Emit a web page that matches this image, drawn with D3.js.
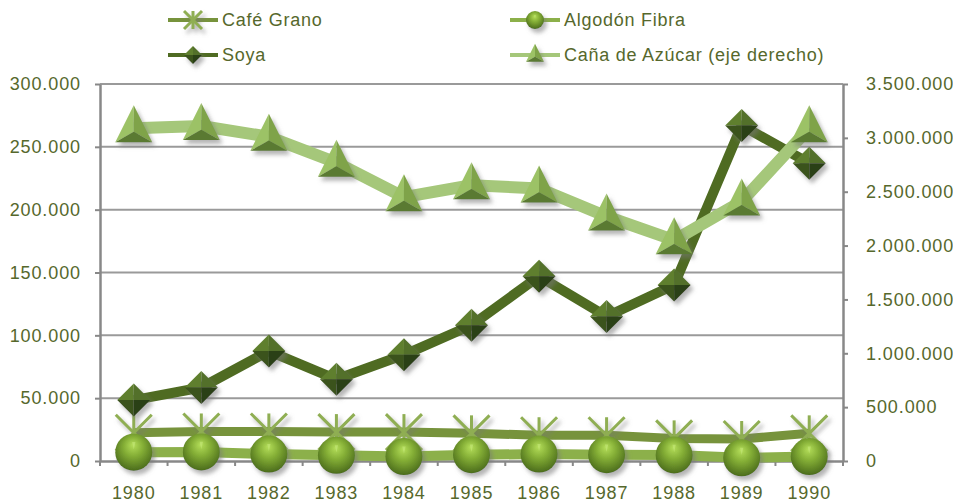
<!DOCTYPE html>
<html>
<head>
<meta charset="utf-8">
<script src="https://cdn.jsdelivr.net/npm/d3@7"></script>
<style>
  html, body { margin: 0; padding: 0; background: #fff; }
  svg { display: block; }
  text { font-family: "Liberation Sans", Arial, sans-serif; fill: #56682c; }
</style>
</head>
<body>
<svg id="chart" width="953" height="502"></svg>
<script>
// Producción agrícola 1980–1990
const years   = [1980, 1981, 1982, 1983, 1984, 1985, 1986, 1987, 1988, 1989, 1990];
const cafe    = [22500, 23500, 23500, 23000, 23000, 22000, 20500, 20500, 18000, 17500, 22000];
const algodon = [7000, 7200, 5500, 4500, 3500, 5000, 5500, 5000, 4800, 2500, 3500];
const soya    = [48500, 58500, 87500, 65000, 84500, 108000, 147000, 115000, 140000, 267000, 237000];
const cana    = [3090000, 3110000, 3010000, 2770000, 2450000, 2560000, 2530000, 2270000, 2050000, 2410000, 3090000];
const leftTicks  = [0, 50000, 100000, 150000, 200000, 250000, 300000];
const rightTicks = [0, 500000, 1000000, 1500000, 2000000, 2500000, 3000000, 3500000];

const svg = d3.select("#chart");
const plot = { left: 100, right: 843, top: 84, bottom: 461 };

const x = d3.scaleBand().domain(years).range([plot.left, plot.right]).padding(0);
const yL = d3.scaleLinear().domain([0, 300000]).range([plot.bottom, plot.top]);
const yR = d3.scaleLinear().domain([0, 3500000]).range([plot.bottom, plot.top]);
const cx = d => x(d) + x.bandwidth() / 2;

const fmt = d3.formatLocale({ decimal: ",", thousands: ".", grouping: [3], currency: ["", ""] }).format(",d");

// ---------- gradients & filters ----------
const defs = svg.append("defs");
const shadow = defs.append("filter").attr("id", "shadow")
  .attr("x", "-50%").attr("y", "-50%").attr("width", "200%").attr("height", "200%");
shadow.append("feDropShadow").attr("dx", 3).attr("dy", 4).attr("stdDeviation", 2)
  .attr("flood-color", "#777").attr("flood-opacity", 0.55);

const sph = defs.append("radialGradient").attr("id", "sphere")
  .attr("cx", "50%").attr("cy", "40%").attr("r", "60%").attr("fx", "48%").attr("fy", "30%");
sph.append("stop").attr("offset", "0%").attr("stop-color", "#b4de5a");
sph.append("stop").attr("offset", "45%").attr("stop-color", "#83ad35");
sph.append("stop").attr("offset", "100%").attr("stop-color", "#4b6c1c");

// ---------- gridlines ----------
svg.append("g").selectAll("line").data(leftTicks.filter(d => d > 0)).join("line")
  .attr("x1", plot.left).attr("x2", plot.right)
  .attr("y1", d => yL(d)).attr("y2", d => yL(d))
  .attr("stroke", "#9a9a9a").attr("stroke-width", 2);

// ---------- axes ----------
function styleAxis(g) {
  g.select(".domain").attr("stroke", "#888").attr("stroke-width", 2.5);
  g.selectAll(".tick line").attr("stroke", "#888").attr("stroke-width", 2);
  g.selectAll("text").attr("fill", "#56682c").style("font-size", "18px")
    .style("letter-spacing", "0.9px")
    .style("font-family", '"Liberation Sans", Arial, sans-serif');
}

svg.append("g").attr("transform", `translate(${plot.left},0)`)
  .call(d3.axisLeft(yL).tickValues(leftTicks).tickFormat(fmt).tickSizeInner(5).tickSizeOuter(0).tickPadding(14))
  .call(styleAxis);

svg.append("g").attr("transform", `translate(${plot.right},0)`)
  .call(d3.axisRight(yR).tickValues(rightTicks).tickFormat(fmt).tickSizeInner(5).tickSizeOuter(0).tickPadding(18))
  .call(styleAxis);

const xAxis = svg.append("g").attr("transform", `translate(0,${plot.bottom})`)
  .call(d3.axisBottom(x).tickSize(0).tickPadding(25))
  .call(styleAxis);
// tick marks on category boundaries
xAxis.selectAll(".bound").data(d3.range(years.length + 1)).join("line")
  .attr("class", "bound")
  .attr("x1", i => plot.left + i * x.bandwidth()).attr("x2", i => plot.left + i * x.bandwidth())
  .attr("y1", 0).attr("y2", 5).attr("stroke", "#888").attr("stroke-width", 2);

// ---------- marker shapes ----------
function star(g, s, color) {
  const r = s / 2;
  const a = g.append("g").attr("filter", "url(#shadow)");
  [[-r, -r, r, r], [-r, r, r, -r], [0, -r, 0, r]].forEach(p =>
    a.append("line").attr("x1", p[0]).attr("y1", p[1]).attr("x2", p[2]).attr("y2", p[3])
      .attr("stroke", color).attr("stroke-width", 3));
}
function sphere(g, s) {
  const r = s / 2;
  const a = g.append("g").attr("filter", "url(#shadow)");
  a.append("circle").attr("r", r).attr("fill", "url(#sphere)");
  a.append("path").attr("d", `M0,${-r * 0.15} L${-r * 0.09},${-r * 0.55} L${r * 0.09},${-r * 0.55} Z`)
    .attr("fill", "#c4e87a").attr("opacity", 0.6);
}
function diamond(g, s) {
  const r = s / 2;
  const a = g.append("g").attr("filter", "url(#shadow)");
  a.append("path").attr("d", `M0,0 L${-r},0 L0,${-r} Z`).attr("fill", "#5f7f2d");
  a.append("path").attr("d", `M0,0 L0,${-r} L${r},0 Z`).attr("fill", "#52702a");
  a.append("path").attr("d", `M0,0 L${-r},0 L0,${r} Z`).attr("fill", "#3b521a");
  a.append("path").attr("d", `M0,0 L${r},0 L0,${r} Z`).attr("fill", "#2c3f12");
}
function triangle(g, s) {
  const h = s, w = s, top = -h * 0.62, base = h * 0.38;
  const a = g.append("g").attr("filter", "url(#shadow)");
  const c = [0, base - h * 0.28];
  a.append("path").attr("d", `M0,${top} L${-w / 2},${base} L${c[0]},${c[1]} Z`).attr("fill", "#9cc266");
  a.append("path").attr("d", `M0,${top} L${w / 2},${base} L${c[0]},${c[1]} Z`).attr("fill", "#7fa34a");
  a.append("path").attr("d", `M${-w / 2},${base} L${w / 2},${base} L${c[0]},${c[1]} Z`).attr("fill", "#5a7a30");
}

// ---------- series ----------
const series = [
  { name: "Café Grano", values: cafe, y: yL, color: "#77933c", width: 9, marker: (g, s) => star(g, s, "#8fae52"), size: 36 },
  { name: "Algodón Fibra", values: algodon, y: yL, color: "#8cb04a", width: 10, marker: sphere, size: 37 },
  { name: "Soya", values: soya, y: yL, color: "#4f6b22", width: 10, marker: diamond, size: 33 },
  { name: "Caña de Azúcar (eje derecho)", values: cana, y: yR, color: "#a5c77a", width: 12, marker: triangle, size: 37 }
];

series.forEach(s => {
  const pts = years.map((yr, i) => [cx(yr), s.y(s.values[i])]);
  const g = svg.append("g");
  g.append("path").attr("d", d3.line()(pts)).attr("fill", "none")
    .attr("stroke", s.color).attr("stroke-width", s.width).attr("stroke-linejoin", "round");
  g.selectAll("g.m").data(pts).join("g").attr("class", "m")
    .attr("transform", p => `translate(${p[0]},${p[1]})`)
    .each(function () { s.marker(d3.select(this), s.size); });
});

// ---------- legend ----------
const legendPos = [
  { x: 168, y: 20 }, { x: 510, y: 20 }, { x: 168, y: 55 }, { x: 510, y: 55 }
];
const legendOrder = [0, 1, 2, 3];
legendOrder.forEach((si, k) => {
  const s = series[si], p = legendPos[k];
  const g = svg.append("g").attr("transform", `translate(${p.x},${p.y})`);
  g.append("line").attr("x1", 0).attr("x2", 50).attr("stroke", s.color).attr("stroke-width", 4);
  const m = g.append("g").attr("transform", "translate(25,0)");
  s.marker(m, 18);
  m.attr("filter", null);
  g.append("text").attr("x", 54).attr("y", 0).attr("dy", "0.35em")
    .style("font-size", "18px").style("letter-spacing", "0.75px").text(s.name);
});
</script>
</body>
</html>
